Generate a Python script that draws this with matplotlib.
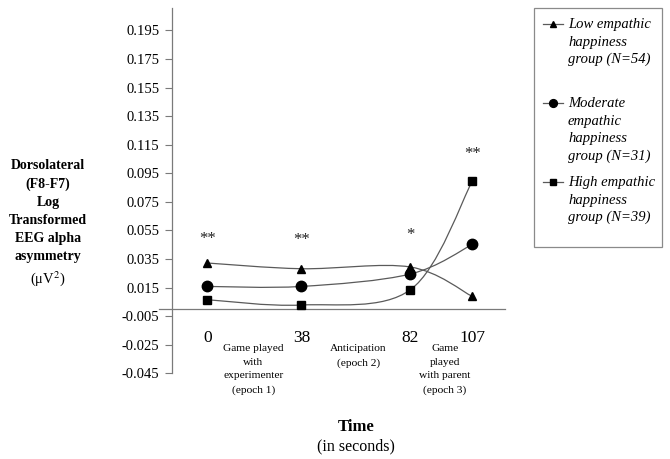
import matplotlib
matplotlib.use("Agg")
import matplotlib.pyplot as plt
from matplotlib.path import Path
from matplotlib.patches import PathPatch, Rectangle
from matplotlib.lines import Line2D

plt.rcParams['font.family'] = ['Liberation Serif', 'DejaVu Serif']
plt.rcParams['mathtext.fontset'] = 'stix'

# ---- data ----
times = [0, 38, 82, 107]
time_labels = ["0", "38", "82", "107"]
low = [0.0322, 0.0282, 0.0294, 0.0088]
moderate = [0.0158, 0.0158, 0.0245, 0.0452]
high = [0.0065, 0.0028, 0.0135, 0.0895]
series_names = [["Low empathic", "happiness", "group (N=54)"],
                ["Moderate", "empathic", "happiness", "group (N=31)"],
                ["High empathic", "happiness", "group (N=39)"]]
sig_labels = ["**", "**", "*", "**"]
sig_y = [0.0488, 0.0482, 0.0515, 0.1085]
yticks = [-0.045, -0.025, -0.005, 0.015, 0.035, 0.055, 0.075, 0.095,
          0.115, 0.135, 0.155, 0.175, 0.195]
epoch_labels = ["Game played\nwith\nexperimenter\n(epoch 1)",
                "Anticipation\n(epoch 2)",
                "Game\nplayed\nwith parent\n(epoch 3)"]
epoch_x = [18.6, 61, 96]

W, H = 670, 459
fig = plt.figure(figsize=(W / 100, H / 100), dpi=100)
ax = fig.add_axes([171.7 / W, 1 - 373.3 / H, (505 - 171.7) / W, (373.3 - 8.3) / H])
ax.set_xlim(-14.4, 120.2)
ax.set_ylim(-0.045, 0.2105)

line_col = '#5a5a5a'


def smooth_path(xs, ys):
    pts = list(zip(xs, ys))
    verts = [pts[0]]
    codes = [Path.MOVETO]
    n = len(pts)
    for i in range(n - 1):
        p0 = pts[i - 1] if i > 0 else pts[i]
        p1 = pts[i]
        p2 = pts[i + 1]
        p3 = pts[i + 2] if i + 2 < n else pts[i + 1]
        c1 = (p1[0] + (p2[0] - p0[0]) / 6, p1[1] + (p2[1] - p0[1]) / 6)
        c2 = (p2[0] - (p3[0] - p1[0]) / 6, p2[1] - (p3[1] - p1[1]) / 6)
        verts += [c1, c2, p2]
        codes += [Path.CURVE4] * 3
    return Path(verts, codes)


markers = ['^', 'o', 's']
msizes = [6, 7.5, 5.5]
for vals, m, ms in zip([low, moderate, high], markers, msizes):
    ax.add_patch(PathPatch(smooth_path(times, vals), fill=False,
                           edgecolor=line_col, lw=0.9, zorder=2))
    ax.plot(times, vals, linestyle='none', marker=m, ms=ms, color='black', zorder=3)

for x, s, y in zip(times, sig_labels, sig_y):
    ax.text(x, y, s, ha='center', va='center', fontsize=12, color='#222222')

# axes styling
for s in ['top', 'right']:
    ax.spines[s].set_visible(False)
ax.spines['left'].set_color('#7a7a7a')
ax.spines['left'].set_linewidth(0.9)
ax.spines['bottom'].set_position(('data', 0))
ax.spines['bottom'].set_color('#7a7a7a')
ax.spines['bottom'].set_linewidth(0.9)
ax.spines['bottom'].set_bounds(-19.5, 120.2)

ax.set_yticks(yticks)
ax.set_yticklabels([f"{v:.3f}" for v in yticks])
ax.tick_params(axis='y', direction='out', length=5, width=0.8, color='#7a7a7a',
               labelsize=10.5, pad=4)
ax.set_xticks(times)
ax.set_xticklabels(time_labels)
ax.tick_params(axis='x', length=0, labelsize=12.5, pad=15)

for x, t in zip(epoch_x, epoch_labels):
    ax.text(x, -0.0246, t, ha='center', va='top', fontsize=8.2, linespacing=1.65)

fig.text(356 / W, 1 - 427 / H, "Time", ha='center', va='center', fontsize=12,
         fontweight='bold')
fig.text(356 / W, 1 - 446 / H, "(in seconds)", ha='center', va='center', fontsize=11.5)

fig.text(48 / W, 1 - 159 / H,
         "Dorsolateral\n(F8-F7)\nLog\nTransformed\nEEG alpha\nasymmetry",
         ha='center', va='top', fontsize=10, fontweight='bold', linespacing=1.5)
fig.text(48 / W, 1 - 279 / H, "(μV$^2$)", ha='center', va='center', fontsize=10.5)

# legend box
fig.patches.append(Rectangle((534.3 / W, 1 - 246.7 / H), (661.7 - 534.3) / W,
                             (246.7 - 8.3) / H, transform=fig.transFigure,
                             fill=False, edgecolor='#8a8a8a', lw=0.9))
first_y = [24, 103, 182]
step = 17.6
for lines, m, ms, y0 in zip(series_names, markers, msizes, first_y):
    fig.lines.append(Line2D([543 / W, 563 / W], [1 - y0 / H, 1 - y0 / H],
                            transform=fig.transFigure, color=line_col, lw=0.9))
    fig.lines.append(Line2D([553 / W], [1 - y0 / H], transform=fig.transFigure,
                            marker=m, ms=ms * 0.75, color='black', linestyle='none'))
    for k, ln in enumerate(lines):
        fig.text(568 / W, 1 - (y0 + 4 + k * step) / H, ln, ha='left', va='baseline',
                 fontsize=10.5, style='italic')

fig.savefig("out.png", dpi=100)
